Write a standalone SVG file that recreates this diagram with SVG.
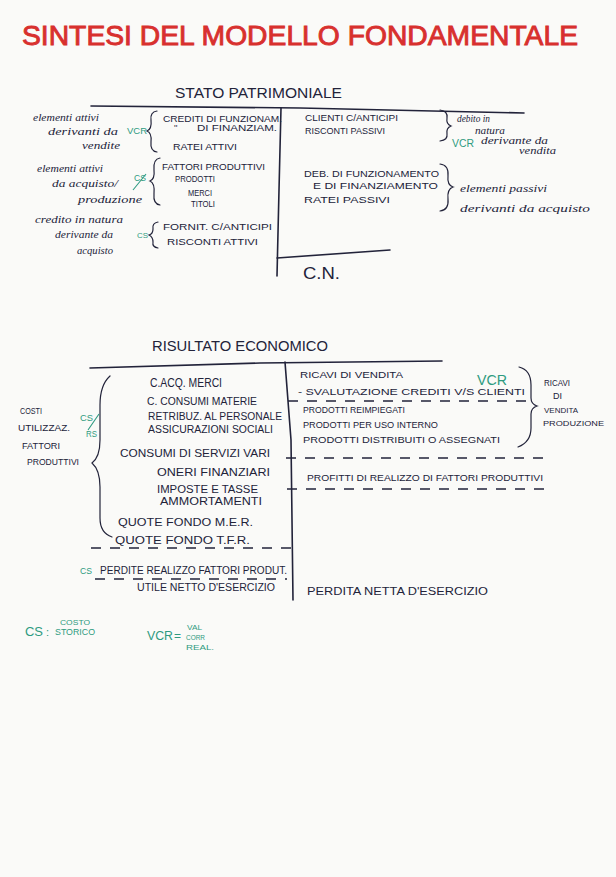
<svg xmlns="http://www.w3.org/2000/svg" width="616" height="877" viewBox="0 0 616 877">
  <defs>
    <style>
      .ink { fill: #22233a; font-family: "Liberation Sans", "DejaVu Sans", sans-serif; }
      .cur { fill: #22233a; font-family: "Liberation Serif", "DejaVu Serif", serif; font-style: italic; }
      .grn { fill: #2e9a80; font-family: "Liberation Sans", "DejaVu Sans", sans-serif; }
      .red { fill: #d8302e; stroke: #d8302e; stroke-width: 0.9; font-family: "Liberation Sans", "DejaVu Sans", sans-serif; }
      .rule { stroke: #22233a; stroke-width: 1.6; fill: none; stroke-linecap: round; }
      .dash { stroke: #22233a; stroke-width: 1.6; fill: none; stroke-dasharray: 10 9; }
      .brace { stroke: #22233a; stroke-width: 1.2; fill: none; stroke-linecap: round; }
      .gline { stroke: #2e9a80; stroke-width: 1.1; fill: none; }
    </style>
  </defs>

  <!-- paper -->
  <rect x="0" y="0" width="616" height="877" fill="#fafaf8"/>

  <!-- heading -->
  <g id="title">
    <text class="red" x="22" y="45" font-size="27" textLength="556" lengthAdjust="spacingAndGlyphs">SINTESI DEL MODELLO FONDAMENTALE</text>
  </g>

  <!-- balance sheet: T-account -->
  <g id="stato-patrimoniale">
    <text class="ink" x="175" y="98" font-size="15" textLength="167" lengthAdjust="spacingAndGlyphs">STATO PATRIMONIALE</text>
    <g id="sp-frame">
      <path class="rule" d="M91 106 L300 108 L524 113"/>
      <path class="rule" d="M281 108 L279 190 L277 276"/>
      <path class="rule" d="M277 258 L390 250"/>
    </g>
    <text class="ink" x="303" y="279" font-size="17" textLength="37" lengthAdjust="spacingAndGlyphs">C.N.</text>

    <!-- assets -->
    <g id="sp-attivo">
      <text class="ink" x="163" y="122" font-size="9" textLength="119" lengthAdjust="spacingAndGlyphs">CREDITI DI FUNZIONAM.</text>
      <text class="ink" x="174" y="131" font-size="9">''</text>
      <text class="ink" x="197" y="131" font-size="9" textLength="80" lengthAdjust="spacingAndGlyphs">DI FINANZIAM.</text>
      <text class="ink" x="173" y="150" font-size="9" textLength="64" lengthAdjust="spacingAndGlyphs">RATEI ATTIVI</text>
      <text class="ink" x="162" y="170" font-size="9" textLength="103" lengthAdjust="spacingAndGlyphs">FATTORI PRODUTTIVI</text>
      <text class="ink" x="175" y="182" font-size="9" textLength="40" lengthAdjust="spacingAndGlyphs">PRODOTTI</text>
      <text class="ink" x="188" y="196" font-size="9" textLength="24" lengthAdjust="spacingAndGlyphs">MERCI</text>
      <text class="ink" x="191" y="207" font-size="9" textLength="24" lengthAdjust="spacingAndGlyphs">TITOLI</text>
      <text class="ink" x="163" y="230" font-size="9" textLength="109" lengthAdjust="spacingAndGlyphs">FORNIT. C/ANTICIPI</text>
      <text class="ink" x="167" y="245" font-size="9" textLength="91" lengthAdjust="spacingAndGlyphs">RISCONTI ATTIVI</text>

      <path class="brace" d="M157 111 Q150 112 151 120 Q152 129 147 131 Q152 133 151 142 Q150 151 157 152"/>
      <path class="brace" d="M160 158 Q153 159 154 170 Q155 179 150 181 Q155 183 154 194 Q153 204 160 205"/>
      <path class="brace" d="M158 222 Q152 223 153 229 Q153 234 149 235 Q153 237 153 242 Q152 247 158 248"/>

      <text class="cur" x="33" y="121" font-size="11" textLength="66" lengthAdjust="spacingAndGlyphs">elementi attivi</text>
      <text class="cur" x="48" y="135" font-size="11" textLength="70" lengthAdjust="spacingAndGlyphs">derivanti da</text>
      <text class="cur" x="82" y="149" font-size="11" textLength="38" lengthAdjust="spacingAndGlyphs">vendite</text>
      <text class="cur" x="37" y="172" font-size="11" textLength="66" lengthAdjust="spacingAndGlyphs">elementi attivi</text>
      <text class="cur" x="52" y="187" font-size="11" textLength="66" lengthAdjust="spacingAndGlyphs">da acquisto/</text>
      <text class="cur" x="78" y="203" font-size="11" textLength="64" lengthAdjust="spacingAndGlyphs">produzione</text>
      <text class="cur" x="35" y="223" font-size="11" textLength="88" lengthAdjust="spacingAndGlyphs">credito in natura</text>
      <text class="cur" x="55" y="238" font-size="11" textLength="58" lengthAdjust="spacingAndGlyphs">derivante da</text>
      <text class="cur" x="77" y="254" font-size="11" textLength="36" lengthAdjust="spacingAndGlyphs">acquisto</text>

      <text class="grn" x="127" y="134" font-size="9" textLength="20" lengthAdjust="spacingAndGlyphs">VCR</text>
      <text class="grn" x="134" y="181" font-size="9" textLength="12" lengthAdjust="spacingAndGlyphs">CS</text>
      <path class="gline" d="M133 190 L146 174"/>
      <text class="grn" x="137" y="238" font-size="8" textLength="11" lengthAdjust="spacingAndGlyphs">CS</text>
    </g>

    <!-- liabilities -->
    <g id="sp-passivo">
      <text class="ink" x="305" y="121" font-size="9" textLength="93" lengthAdjust="spacingAndGlyphs">CLIENTI C/ANTICIPI</text>
      <text class="ink" x="305" y="134" font-size="9" textLength="80" lengthAdjust="spacingAndGlyphs">RISCONTI PASSIVI</text>
      <text class="ink" x="304" y="177" font-size="9" textLength="135" lengthAdjust="spacingAndGlyphs">DEB. DI FUNZIONAMENTO</text>
      <text class="ink" x="313" y="189" font-size="9" textLength="125" lengthAdjust="spacingAndGlyphs">E DI FINANZIAMENTO</text>
      <text class="ink" x="304" y="203" font-size="9" textLength="86" lengthAdjust="spacingAndGlyphs">RATEI PASSIVI</text>

      <path class="brace" d="M440 110 Q448 111 447 118 Q446 124 451 126 Q446 128 447 134 Q448 140 440 141"/>
      <path class="brace" d="M440 164 Q449 165 448 176 Q447 185 453 187 Q447 189 448 199 Q449 210 440 211"/>

      <text class="cur" x="457" y="122" font-size="10" textLength="33" lengthAdjust="spacingAndGlyphs">debito in</text>
      <text class="cur" x="475" y="134" font-size="10" textLength="30" lengthAdjust="spacingAndGlyphs">natura</text>
      <text class="cur" x="481" y="144" font-size="10" textLength="67" lengthAdjust="spacingAndGlyphs">derivante da</text>
      <text class="cur" x="519" y="154" font-size="10" textLength="37" lengthAdjust="spacingAndGlyphs">vendita</text>
      <text class="grn" x="452" y="147" font-size="10" textLength="22" lengthAdjust="spacingAndGlyphs">VCR</text>
      <text class="cur" x="460" y="192" font-size="11" textLength="87" lengthAdjust="spacingAndGlyphs">elementi passivi</text>
      <text class="cur" x="460" y="212" font-size="11" textLength="130" lengthAdjust="spacingAndGlyphs">derivanti da acquisto</text>
    </g>
  </g>

  <!-- income statement: T-account -->
  <g id="risultato-economico">
    <text class="ink" x="152" y="351" font-size="15" textLength="176" lengthAdjust="spacingAndGlyphs">RISULTATO ECONOMICO</text>
    <g id="re-frame">
      <path class="rule" d="M90 368 L260 363 L442 361"/>
      <path class="rule" d="M285 362 L291 440 L293 600"/>
      <path class="dash" d="M288 401 L527 401"/>
      <path class="dash" d="M286 458 L547 458"/>
      <path class="dash" d="M287 489 L545 489"/>
      <path class="dash" d="M291 548 L90 548"/>
      <path class="dash" d="M95 579 L287 579"/>
    </g>

    <!-- costs -->
    <g id="re-costi">
      <text class="ink" x="150" y="387" font-size="12" textLength="72" lengthAdjust="spacingAndGlyphs">C.ACQ. MERCI</text>
      <text class="ink" x="147" y="405" font-size="11" textLength="110" lengthAdjust="spacingAndGlyphs">C. CONSUMI MATERIE</text>
      <text class="ink" x="148" y="420" font-size="10" textLength="134" lengthAdjust="spacingAndGlyphs">RETRIBUZ. AL PERSONALE</text>
      <text class="ink" x="148" y="433" font-size="10" textLength="125" lengthAdjust="spacingAndGlyphs">ASSICURAZIONI SOCIALI</text>
      <text class="ink" x="120" y="457" font-size="11" textLength="150" lengthAdjust="spacingAndGlyphs">CONSUMI DI SERVIZI VARI</text>
      <text class="ink" x="157" y="476" font-size="11" textLength="113" lengthAdjust="spacingAndGlyphs">ONERI FINANZIARI</text>
      <text class="ink" x="157" y="493" font-size="10" textLength="101" lengthAdjust="spacingAndGlyphs">IMPOSTE E TASSE</text>
      <text class="ink" x="160" y="505" font-size="10" textLength="102" lengthAdjust="spacingAndGlyphs">AMMORTAMENTI</text>
      <text class="ink" x="118" y="526" font-size="10" textLength="135" lengthAdjust="spacingAndGlyphs">QUOTE FONDO M.E.R.</text>
      <text class="ink" x="115" y="544" font-size="10" textLength="135" lengthAdjust="spacingAndGlyphs">QUOTE FONDO T.F.R.</text>
      <text class="ink" x="100" y="574" font-size="10" textLength="187" lengthAdjust="spacingAndGlyphs">PERDITE REALIZZO FATTORI PRODUT.</text>
      <text class="ink" x="137" y="591" font-size="10" textLength="138" lengthAdjust="spacingAndGlyphs">UTILE NETTO D'ESERCIZIO</text>
      <text class="grn" x="80" y="574" font-size="9" textLength="12" lengthAdjust="spacingAndGlyphs">CS</text>

      <path class="brace" d="M110 376 Q100 385 100 405 L100 440 Q100 457 92 463 Q100 470 100 487 L100 518 Q100 533 112 537"/>

      <text class="ink" x="20" y="414" font-size="9" textLength="22" lengthAdjust="spacingAndGlyphs">COSTI</text>
      <text class="ink" x="18" y="431" font-size="9" textLength="52" lengthAdjust="spacingAndGlyphs">UTILIZZAZ.</text>
      <text class="ink" x="22" y="449" font-size="9" textLength="38" lengthAdjust="spacingAndGlyphs">FATTORI</text>
      <text class="ink" x="27" y="465" font-size="9" textLength="52" lengthAdjust="spacingAndGlyphs">PRODUTTIVI</text>
      <text class="grn" x="80" y="421" font-size="9" textLength="13" lengthAdjust="spacingAndGlyphs">CS</text>
      <path class="gline" d="M88 430 L99 414"/>
      <text class="grn" x="86" y="437" font-size="9" textLength="11" lengthAdjust="spacingAndGlyphs">RS</text>
    </g>

    <!-- revenues -->
    <g id="re-ricavi">
      <text class="ink" x="300" y="378" font-size="9.5" textLength="103" lengthAdjust="spacingAndGlyphs">RICAVI DI VENDITA</text>
      <text class="grn" x="477" y="385" font-size="14" textLength="30" lengthAdjust="spacingAndGlyphs">VCR</text>
      <text class="ink" x="298" y="395" font-size="9.5" textLength="227" lengthAdjust="spacingAndGlyphs">- SVALUTAZIONE CREDITI V/S CLIENTI</text>
      <text class="ink" x="303" y="413" font-size="9" textLength="102" lengthAdjust="spacingAndGlyphs">PRODOTTI REIMPIEGATI</text>
      <text class="ink" x="303" y="428" font-size="9" textLength="135" lengthAdjust="spacingAndGlyphs">PRODOTTI PER USO INTERNO</text>
      <text class="ink" x="303" y="443" font-size="9" textLength="197" lengthAdjust="spacingAndGlyphs">PRODOTTI DISTRIBUITI O ASSEGNATI</text>

      <path class="brace" d="M519 367 Q531 370 531 385 L531 398 Q531 404 537 406 Q531 408 531 414 L531 428 Q531 442 518 447"/>

      <text class="ink" x="544" y="386" font-size="9" textLength="26" lengthAdjust="spacingAndGlyphs">RICAVI</text>
      <text class="ink" x="553" y="399" font-size="9" textLength="9" lengthAdjust="spacingAndGlyphs">DI</text>
      <text class="ink" x="544" y="413" font-size="8" textLength="34" lengthAdjust="spacingAndGlyphs">VENDITA</text>
      <text class="ink" x="543" y="426" font-size="8" textLength="61" lengthAdjust="spacingAndGlyphs">PRODUZIONE</text>

      <text class="ink" x="307" y="481" font-size="9.5" textLength="236" lengthAdjust="spacingAndGlyphs">PROFITTI DI REALIZZO DI FATTORI PRODUTTIVI</text>
      <text class="ink" x="307" y="595" font-size="10" textLength="181" lengthAdjust="spacingAndGlyphs">PERDITA NETTA D'ESERCIZIO</text>
    </g>
  </g>

  <!-- legend -->
  <g id="legenda">
    <text class="grn" x="25" y="636" font-size="12" textLength="18" lengthAdjust="spacingAndGlyphs">CS</text>
    <text class="grn" x="46" y="636" font-size="11">:</text>
    <text class="grn" x="60" y="625" font-size="7" textLength="30" lengthAdjust="spacingAndGlyphs">COSTO</text>
    <text class="grn" x="55" y="635" font-size="9" textLength="40" lengthAdjust="spacingAndGlyphs">STORICO</text>
    <text class="grn" x="147" y="640" font-size="12" textLength="26" lengthAdjust="spacingAndGlyphs">VCR</text>
    <text class="grn" x="174" y="640" font-size="12">=</text>
    <text class="grn" x="187" y="630" font-size="7" textLength="15" lengthAdjust="spacingAndGlyphs">VAL</text>
    <text class="grn" x="186" y="640" font-size="7" textLength="19" lengthAdjust="spacingAndGlyphs">CORR</text>
    <text class="grn" x="186" y="650" font-size="7" textLength="28" lengthAdjust="spacingAndGlyphs">REAL.</text>
  </g>
</svg>
